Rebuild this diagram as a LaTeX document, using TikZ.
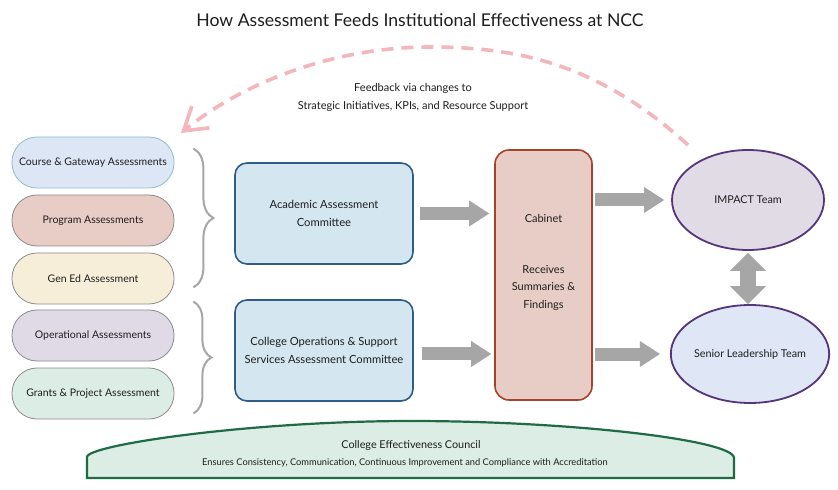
\documentclass[tikz,border=0pt]{standalone}
\usepackage{fontspec}
\setmainfont{Lato}
\usetikzlibrary{arrows.meta,decorations.pathreplacing,shapes.geometric}
\definecolor{pillgray}{HTML}{8C8C8C}
\definecolor{courseborder}{HTML}{93BCCB}
\definecolor{coursefill}{HTML}{DDE6F5}
\definecolor{programfill}{HTML}{E8CCC6}
\definecolor{genedfill}{HTML}{F6EED8}
\definecolor{opfill}{HTML}{E0DAE6}
\definecolor{grantsfill}{HTML}{DCEDE5}
\definecolor{commfill}{HTML}{D4E6F0}
\definecolor{commborder}{HTML}{2F5D87}
\definecolor{cabfill}{HTML}{E8CDC6}
\definecolor{cabborder}{HTML}{A5432A}
\definecolor{impfill}{HTML}{E1DBE6}
\definecolor{senfill}{HTML}{DFE6F6}
\definecolor{purpleborder}{HTML}{57357A}
\definecolor{councilfill}{HTML}{DCEDE5}
\definecolor{councilborder}{HTML}{1F6B45}
\definecolor{fbpink}{HTML}{F2B6BC}
\definecolor{arrowgray}{HTML}{A6A6A6}
\definecolor{bracegray}{HTML}{A6A6A6}
\definecolor{txt}{HTML}{1E1E1E}
\begin{document}
\begin{tikzpicture}[x=1bp,y=-1bp,
  every node/.style={text=txt},
  pill/.style={rectangle, rounded corners=25bp, minimum width=162bp, minimum height=51bp,
    line width=0.8bp, draw=pillgray, font=\fontsize{10.5bp}{13bp}\selectfont, inner sep=0pt},
  commbox/.style={rectangle, rounded corners=12bp, minimum width=178bp, minimum height=101bp,
    line width=1.6bp, draw=commborder, fill=commfill, align=center,
    font=\fontsize{11.2bp}{18.5bp}\selectfont},
  teamell/.style={ellipse, line width=1.8bp, draw=purpleborder, inner sep=0pt,
    font=\fontsize{10.8bp}{13bp}\selectfont},
  blk/.style={draw=arrowgray, line width=13bp, -{Triangle[width=26bp,length=20bp,line width=0pt]}},
  dbl/.style={draw=arrowgray, line width=16bp,
    {Triangle[width=36bp,length=18bp,line width=0pt]}-{Triangle[width=36bp,length=18bp,line width=0pt]}},
  bracestyle/.style={draw=bracegray, line width=2bp, decorate},
  lbl/.style={font=\fontsize{11bp}{17.5bp}\selectfont, align=center, inner sep=0pt}
]
\useasboundingbox (0,0) rectangle (838,490);
\fill[white] (0,0) rectangle (838,490);

% title
\node[font=\fontsize{17.6bp}{21bp}\selectfont] (title) at (420,20) {How Assessment Feeds Institutional Effectiveness at NCC};

% left pills
\node[pill, draw=courseborder, fill=coursefill] (course) at (93,162.5) {Course \& Gateway Assessments};
\node[pill, fill=programfill] (program) at (93,220.5) {Program Assessments};
\node[pill, fill=genedfill] (gened) at (93,278.5) {Gen Ed Assessment};
\node[pill, fill=opfill] (oper) at (93,335.5) {Operational Assessments};
\node[pill, fill=grantsfill] (grants) at (93,393.5) {Grants \& Project Assessment};

% braces
\draw[bracestyle, decoration={brace, amplitude=20bp}]
  ([shift={(19,12)}]course.north east) -- ([shift={(19,-17)}]gened.south east);
\draw[bracestyle, decoration={brace, amplitude=18bp}]
  ([shift={(19,-8)}]oper.north east) -- ([shift={(19,-6)}]grants.south east);

% committees
\node[commbox] (acad) at (324,213.5) {Academic Assessment\\Committee};
\node[commbox] (coll) at (324,350.5) {College Operations \& Support\\Services Assessment Committee};

% cabinet
\node[rectangle, rounded corners=14bp, minimum width=97bp, minimum height=250bp,
  line width=1.6bp, draw=cabborder, fill=cabfill] (cab) at (543.5,275) {};
\node[lbl] (cabt) at (543.5,218) {Cabinet};
\node[lbl] (cabr) at (543.5,287.5) {Receives\\Summaries \&\\Findings};

% teams
\node[teamell, fill=impfill, minimum width=152bp, minimum height=100bp] (imp) at (748,200) {IMPACT Team};
\node[teamell, fill=senfill, minimum width=150bp, minimum height=98bp] (sen) at (750,354) {Senior Leadership Team};

% block arrows
\draw[blk, shorten <=6bp, shorten >=5bp] (acad.east) -- (acad.east -| cab.west);
\draw[blk, shorten <=8bp, shorten >=3bp] ([yshift=-3.5]coll.east) -- ([yshift=-3.5]coll.east -| cab.west);
\draw[blk, shorten <=2bp, shorten >=7bp] (cab.east |- imp.west) -- (imp.west);
\draw[blk, shorten <=2bp, shorten >=10bp] (cab.east |- sen.west) -- (sen.west);
\draw[dbl, shorten <=2bp, shorten >=0bp] (imp.south) -- (imp.south |- sen.north);

% feedback arc
\coordinate (fbstart) at (688,145);
\coordinate (fbend) at (181,133);
\draw[draw=fbpink, line width=3.6bp, dash pattern=on 12bp off 8bp,
  -{Straight Barb[length=22bp,width=28bp,line width=3.6bp]}]
  (fbstart) .. controls (600,65) and (520,47) .. (430,47)
  .. controls (330,47) and (240,85) .. (fbend);
\node[lbl] (fbtext) at (413,97.5) {Feedback via changes to\\Strategic Initiatives, KPIs, and Resource Support};

% council
\draw[draw=councilborder, fill=councilfill, line width=2.2bp]
  (87,478) -- (87,457) .. controls (87,445) and (250,421) .. (411,421)
  .. controls (570,421) and (734,440) .. (734,458) -- (734,478) -- cycle;
\node[font=\fontsize{10.8bp}{13bp}\selectfont] (council) at (411,446) {College Effectiveness Council};
\node[font=\fontsize{9.3bp}{11bp}\selectfont] (councilsub) at (405,463) {Ensures Consistency, Communication, Continuous Improvement and Compliance with Accreditation};
\end{tikzpicture}
\end{document}
